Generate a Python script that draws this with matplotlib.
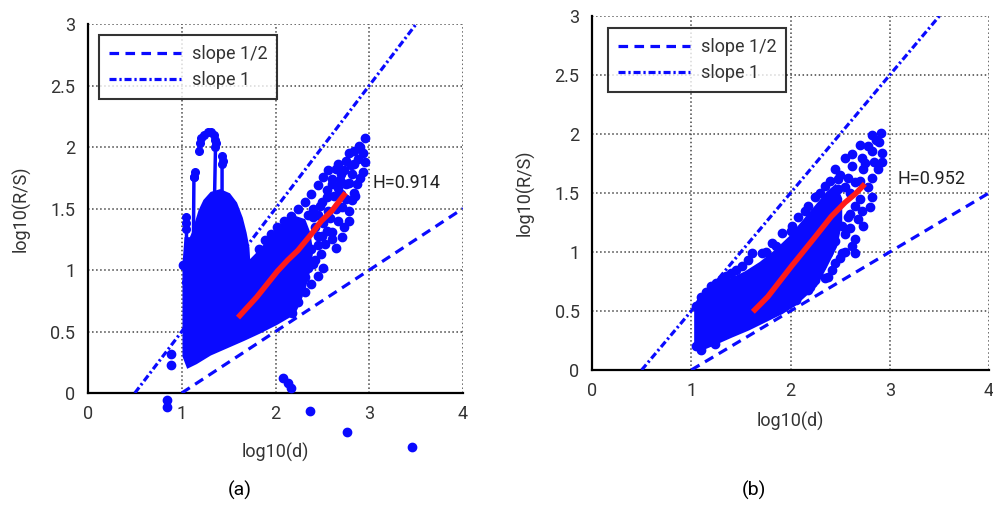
import matplotlib
matplotlib.use('Agg')
import matplotlib.pyplot as plt

plt.rcParams['font.family'] = ['Roboto', 'DejaVu Sans']

BLUE = '#0a0aff'
TXT = '#333333'

# guide lines (both panels)
half_x = [1.0, 4.0]
half_y = [0.0, 1.5]
one_x = [0.5, 3.5]
one_y = [0.0, 3.0]

# ---------- panel (a) ----------
# dense core of the cloud (outline)
a_core_x = [1.07, 1.03, 1.03, 1.05, 1.10, 1.13, 1.16, 1.20, 1.25, 1.32, 1.41, 1.50, 1.57,
            1.63, 1.67, 1.70, 1.71, 1.80, 1.92, 2.02, 2.12, 2.22, 2.30, 2.35, 2.38, 2.35,
            2.30, 2.24, 2.19, 2.01, 1.83, 1.66, 1.48, 1.30, 1.15]
a_core_y = [0.22, 0.30, 1.05, 1.25, 1.25, 1.30, 1.38, 1.48, 1.56, 1.62, 1.64, 1.61, 1.54,
            1.42, 1.30, 1.18, 1.05, 1.12, 1.22, 1.32, 1.38, 1.42, 1.40, 1.30, 1.15, 1.00,
            0.85, 0.73, 0.65, 0.57, 0.50, 0.44, 0.38, 0.32, 0.25]
# connected spikes above the core
a_spike1_x = [1.05, 1.05, 1.05, 1.05]
a_spike1_y = [0.90, 1.33, 1.38, 1.43]
a_spike2_x = [1.12, 1.13, 1.14, 1.13]
a_spike2_y = [0.80, 1.76, 1.80, 1.76]
a_arch_x = [1.18, 1.19, 1.21, 1.24, 1.28, 1.31, 1.34, 1.36, 1.37, 1.36, 1.35]
a_arch_y = [1.97, 2.03, 2.07, 2.10, 2.12, 2.12, 2.10, 2.06, 2.03, 2.00, 1.60]
a_spike3_x = [1.43, 1.43, 1.44, 1.43]
a_spike3_y = [1.60, 1.86, 1.89, 1.93]
# scattered points
a_pts_x = [2.95, 2.89, 2.84, 2.78, 2.93, 2.75, 2.84, 2.95, 2.67, 2.64, 2.56, 2.73, 2.82, 2.93,
           2.51, 2.60, 2.69, 2.78, 2.87, 2.45, 2.67, 2.84, 2.38, 2.55, 2.75, 2.82, 2.31, 2.47,
           2.71, 2.24, 2.56, 2.78, 2.16, 2.40, 2.67, 2.09, 2.51, 2.73, 2.02, 2.60, 1.95, 2.45,
           2.71, 1.89, 2.53, 2.64, 1.82, 2.38, 2.49, 2.31, 2.42, 2.51, 2.35, 2.45, 2.31, 2.38,
           2.24, 2.31, 2.18, 2.24, 2.13, 2.18, 2.05, 1.76, 1.01,
           2.40, 2.45, 2.50, 2.55, 2.60, 2.62, 2.70, 2.75, 2.80, 2.88, 2.90, 2.35, 2.42, 2.50,
           2.55, 2.58, 2.65, 2.70, 2.45, 2.40, 2.28, 2.20, 2.15, 2.10, 2.60, 2.85, 2.90, 2.78,
           0.89, 0.89, 0.84, 0.84, 2.08, 2.13, 2.17, 2.37, 2.76, 3.46]
a_pts_y = [2.07, 2.01, 1.97, 1.95, 1.95, 1.89, 1.86, 1.88, 1.86, 1.82, 1.81, 1.81, 1.78, 1.80,
           1.76, 1.74, 1.73, 1.71, 1.70, 1.69, 1.67, 1.63, 1.62, 1.59, 1.58, 1.57, 1.55, 1.52,
           1.51, 1.50, 1.48, 1.48, 1.44, 1.43, 1.40, 1.40, 1.38, 1.35, 1.35, 1.31, 1.29, 1.28,
           1.27, 1.24, 1.21, 1.18, 1.17, 1.17, 1.13, 1.12, 1.08, 1.02, 1.02, 0.95, 0.94, 0.89,
           0.87, 0.82, 0.80, 0.74, 0.72, 0.65, 0.67, 1.02, 1.04,
           1.50, 1.45, 1.55, 1.65, 1.70, 1.60, 1.78, 1.70, 1.85, 1.90, 2.00, 1.45, 1.35, 1.28,
           1.32, 1.42, 1.50, 1.62, 1.20, 1.05, 0.95, 0.85, 0.75, 0.69, 1.25, 1.60, 1.75, 1.40,
           0.32, 0.23, -0.06, -0.11, 0.12, 0.08, 0.04, -0.15, -0.32, -0.44]
a_fit_x = [1.62, 1.80, 2.02, 2.13, 2.24, 2.38, 2.49, 2.60, 2.73]
a_fit_y = [0.63, 0.78, 0.99, 1.08, 1.16, 1.29, 1.40, 1.48, 1.61]
a_h = 'H=0.914'

# ---------- panel (b) ----------
b_core_x = [1.05, 1.05, 1.10, 1.25, 1.40, 1.55, 1.70, 1.85, 2.00, 2.10, 2.20, 2.30, 2.38,
            2.45, 2.50, 2.50, 2.45, 2.35, 2.25, 2.04, 1.91, 1.74, 1.57, 1.40, 1.24, 1.10]
b_core_y = [0.20, 0.55, 0.62, 0.70, 0.76, 0.82, 0.90, 1.00, 1.12, 1.22, 1.32, 1.42, 1.50,
            1.55, 1.45, 1.25, 1.05, 0.88, 0.72, 0.56, 0.49, 0.42, 0.35, 0.29, 0.23, 0.18]
b_pts_x = [2.91, 2.82, 2.89, 2.70, 2.82, 2.92, 2.62, 2.72, 2.84, 2.55, 2.92, 2.45, 2.62, 2.73,
           2.82, 2.48, 2.58, 2.35, 2.78, 2.65, 2.48, 2.25, 2.82, 2.38, 2.80, 2.65, 2.18, 2.58,
           2.68, 2.73, 2.08, 2.52, 2.55, 2.01, 2.65, 2.45, 1.91, 2.52, 2.65, 2.38, 1.81, 2.45,
           1.71, 2.31, 1.57, 2.38, 1.51, 2.25, 1.61, 1.40, 2.18, 1.30, 1.20, 1.10, 1.05, 2.06,
           1.91, 1.05, 1.10, 1.24,
           2.50, 2.55, 2.60, 2.70, 2.75, 2.78, 2.86, 2.88, 2.60, 2.62, 2.55, 2.50, 2.30, 2.42,
           2.60, 2.70, 2.40, 2.30, 2.15, 2.00, 1.85, 1.75, 1.45, 1.35, 1.25, 1.15, 2.72, 2.35,
           2.20, 2.00]
b_pts_y = [2.01, 1.99, 1.93, 1.91, 1.86, 1.84, 1.83, 1.80, 1.76, 1.80, 1.76, 1.70, 1.73, 1.70,
           1.63, 1.62, 1.63, 1.56, 1.55, 1.59, 1.53, 1.47, 1.47, 1.43, 1.38, 1.39, 1.39, 1.30,
           1.28, 1.22, 1.30, 1.22, 1.15, 1.22, 1.11, 1.09, 1.16, 0.99, 0.99, 0.99, 1.08, 0.91,
           0.99, 0.88, 0.93, 0.79, 0.88, 0.76, 0.99, 0.82, 0.68, 0.76, 0.71, 0.62, 0.54, 0.59,
           0.54, 0.20, 0.17, 0.22,
           1.65, 1.55, 1.50, 1.60, 1.75, 1.90, 1.95, 1.70, 1.20, 1.05, 1.00, 0.95, 0.95, 0.85,
           1.32, 1.45, 1.60, 1.50, 1.35, 1.18, 1.05, 1.00, 0.85, 0.80, 0.74, 0.66, 1.35, 0.78,
           0.70, 0.58]
b_fit_x = [1.64, 1.77, 2.01, 2.25, 2.41, 2.55, 2.65, 2.73]
b_fit_y = [0.51, 0.62, 0.88, 1.13, 1.30, 1.42, 1.49, 1.56]
b_h = 'H=0.952'

xticks = [0, 1, 2, 3, 4]
yticks = [0, 0.5, 1, 1.5, 2, 2.5, 3]
ytick_labels = ['0', '0.5', '1', '1.5', '2', '2.5', '3']


def style_axes(ax, h_text, h_pos, xlab_pad, ylab_pad, leg_anchor):
    ax.set_xlim(0, 4)
    ax.set_ylim(0, 3)
    ax.set_xticks(xticks)
    ax.set_xticklabels([str(t) for t in xticks])
    ax.set_yticks(yticks)
    ax.set_yticklabels(ytick_labels)
    ax.tick_params(length=0, labelsize=13, labelcolor=TXT, pad=9)
    ax.grid(True, linestyle=':', color='#444444', linewidth=1.1)
    ax.spines['top'].set_visible(False)
    ax.spines['right'].set_visible(False)
    ax.spines['left'].set_linewidth(1.6)
    ax.spines['bottom'].set_linewidth(1.6)
    ax.set_xlabel('log10(d)', fontsize=13, color=TXT, labelpad=xlab_pad)
    ax.set_ylabel('log10(R/S)', fontsize=13, color=TXT, labelpad=ylab_pad)
    ax.text(h_pos[0], h_pos[1], h_text, fontsize=13, color='#222222', va='center')
    leg = ax.legend(loc='upper left', fontsize=13, handlelength=4.0, handletextpad=0.6,
                    frameon=True, fancybox=False, borderpad=0.55, labelspacing=0.45,
                    borderaxespad=0, bbox_to_anchor=leg_anchor)
    leg.get_frame().set_edgecolor('black')
    leg.get_frame().set_linewidth(1.5)
    for t in leg.get_texts():
        t.set_color(TXT)


fig = plt.figure(figsize=(9.93, 5.09), dpi=100)
ax1 = fig.add_axes([0.0886, 0.2279, 0.3777, 0.7249])
ax2 = fig.add_axes([0.5962, 0.2731, 0.3998, 0.6955])

for ax in (ax1, ax2):
    ax.plot(half_x, half_y, color=BLUE, linewidth=2.3, linestyle=(0, (3, 2)), label='slope 1/2', zorder=3)
    ax.plot(one_x, one_y, color=BLUE, linewidth=2.3, linestyle=(0, (2.2, 0.9, 0.7, 0.9)), label='slope 1', zorder=3)

# (a)
ax1.fill(a_core_x, a_core_y, color=BLUE, linewidth=3, edgecolor=BLUE, zorder=4)
for sx, sy in [(a_spike1_x, a_spike1_y), (a_spike2_x, a_spike2_y),
               (a_arch_x, a_arch_y), (a_spike3_x, a_spike3_y)]:
    ax1.plot(sx, sy, color=BLUE, linewidth=2.5, marker='o', markersize=5.5, zorder=4)
ax1.scatter(a_pts_x, a_pts_y, s=36, color=BLUE, zorder=4, clip_on=False)
ax1.plot(a_fit_x, a_fit_y, color='#ff1a1a', linewidth=4, zorder=5)

# (b)
ax2.fill(b_core_x, b_core_y, color=BLUE, linewidth=3, edgecolor=BLUE, zorder=4)
ax2.scatter(b_pts_x, b_pts_y, s=36, color=BLUE, zorder=4)
ax2.plot(b_fit_x, b_fit_y, color='#ff1a1a', linewidth=4, zorder=5)

style_axes(ax1, a_h, (3.03, 1.71), 14, 14, (0.029, 0.970))
style_axes(ax2, b_h, (3.08, 1.62), 8, 14, (0.04, 0.965))

fig.text(0.2417, 0.037, '(a)', fontsize=14, ha='center', va='center', color='black')
fig.text(0.7593, 0.037, '(b)', fontsize=14, ha='center', va='center', color='black')

fig.savefig('out.png', dpi=100)
